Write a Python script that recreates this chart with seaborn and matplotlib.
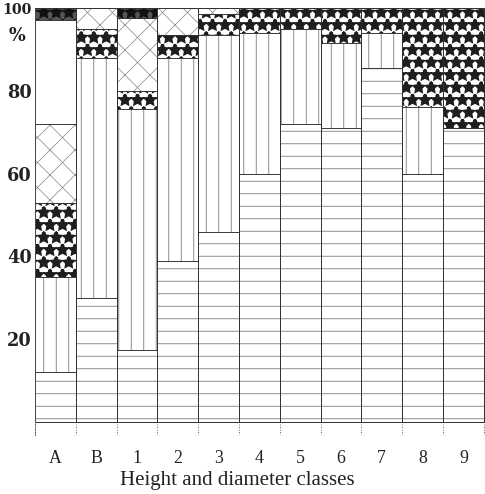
import numpy as np
import matplotlib
matplotlib.use("Agg")
import matplotlib.pyplot as plt
import matplotlib.transforms as mtransforms
import seaborn as sns

categories = ['A', 'B', '1', '2', '3', '4', '5', '6', '7', '8', '9']
horizontal = [12, 30, 17.5, 39, 46, 60, 72, 71, 85.5, 60, 71]
vertical = [23, 58, 58, 49, 47.5, 34, 23, 20.5, 8.5, 16, 0]
dark = [18, 7, 4.5, 5.5, 5, 6, 5, 8.5, 6, 24, 29]
cross = [19, 5, 17.5, 6.5, 1.5, 0, 0, 0, 0, 0, 0]
blank = [25, 0, 0, 0, 0, 0, 0, 0, 0, 0, 0]
top = [3, 0, 2.5, 0, 0, 0, 0, 0, 0, 0, 0]
y_ticks = [0, 20, 40, 60, 80, 100]
y_ticklabels = ['', '20', '40', '60', '80', '100']
y_minor = [10, 30, 50, 70, 90]

sns.set_theme(style="white")
plt.rcParams['font.family'] = ['Liberation Serif', 'DejaVu Serif']

DPI = 75
fig = plt.figure(figsize=(485 / DPI, 494 / DPI), dpi=DPI)
ax = fig.add_axes([35 / 485, 59 / 494, 450 / 485, 427 / 494])

# (values, facecolor, hatch, hatchcolor, hatch linewidth)
layers = [
    (horizontal, 'white', '-', '#7a7a7a', 0.8),
    (vertical, 'white', '|', '#7a7a7a', 0.8),
    (dark, 'white', '*', '#1e1e1e', 3.0),
    (cross, 'white', 'x', '#8a8a8a', 0.7),
    (blank, 'white', '', '#ffffff', 0.5),
    (top, '#555555', '*', '#111111', 3.0),
]
cum = np.cumsum([np.array(l[0], dtype=float) for l in layers], axis=0)

for i in reversed(range(len(layers))):
    vals, fc, h, hc, hlw = layers[i]
    before = len(ax.patches)
    sns.barplot(x=categories, y=cum[i], order=categories, color=fc,
                hatch=h, edgecolor=hc, linewidth=0, width=1, saturation=1,
                errorbar=None, ax=ax)
    for p in ax.patches[before:]:
        if hasattr(p, 'set_hatch_linewidth'):
            p.set_hatch_linewidth(hlw)

for i in reversed(range(len(layers))):
    sns.barplot(x=categories, y=cum[i], order=categories, fill=False,
                color='#333333', linewidth=0.9, width=1, errorbar=None, ax=ax)

ax.set_xlim(-0.5, 10.53)
ax.set_ylim(-3.1, 100)

# bar-edge lines continuing below zero
ax.set_xticks(np.arange(-0.5, len(categories)), minor=True)
ax.grid(which='minor', axis='x', color='#555555', linestyle=':', linewidth=0.9)
ax.set_axisbelow(True)

ax.set_xticks(range(len(categories)))
ax.set_xticklabels(categories, fontsize=17)
ax.tick_params(axis='x', which='both', length=0, pad=14, colors='#222222')

ax.set_yticks(y_ticks)
ax.set_yticklabels(y_ticklabels, fontsize=17, fontweight='bold',
                   family=['DejaVu Serif'])
ax.get_yticklabels()[-1].set_fontsize(13.5)
ax.set_yticks(y_minor, minor=True)
ax.tick_params(axis='y', which='both', direction='inout', length=12,
               width=0.9, color='#555555', pad=-3, labelcolor='#222222')

for s in ['top', 'right', 'bottom']:
    ax.spines[s].set_visible(False)
ax.spines['left'].set_color('#555555')
ax.spines['left'].set_linestyle(':')
ax.spines['left'].set_linewidth(0.9)

trans = mtransforms.blended_transform_factory(ax.transAxes, ax.transData)
ax.text(-0.04, 93.3, '%', transform=trans, ha='center', va='center',
        fontsize=17, fontweight='bold', family=['DejaVu Serif'], color='#222222')

ax.set_xlabel('Height and diameter classes', fontsize=20, color='#222222',
              labelpad=2)
ax.xaxis.set_label_coords(0.449, -0.085)
ax.set_ylabel('')

fig.savefig('out.png', dpi=DPI)
